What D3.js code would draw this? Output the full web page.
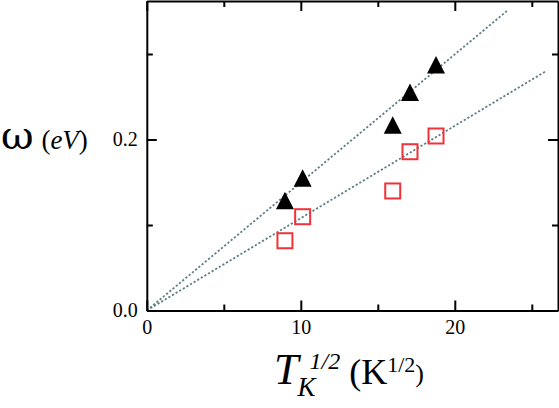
<!DOCTYPE html>
<html>
<head>
<meta charset="utf-8">
<script src="https://cdn.jsdelivr.net/npm/d3@7"></script>
<style>
  body { margin: 0; background: #fff; }
  text { font-family: "Liberation Serif", "DejaVu Serif", serif; fill: #000; }
</style>
</head>
<body>
<div id="chart"></div>
<script>
// data
var tkSqrt = [8.97, 10.12, 15.97, 17.09, 18.78];
var omegaTri = [0.1287, 0.155, 0.217, 0.2553, 0.2875];
var omegaSq = [0.0816, 0.1097, 0.1398, 0.1857, 0.2041];
var fitSlopes = [0.01498, 0.0108];
var fitEnds = [23.45, 25.9];
var xMajor = [0, 10, 20];
var xMinor = [5, 15, 25];
var yMajor = [0.0, 0.2];
var yMinor = [0.1, 0.3];

var svgWidth = 559;
var svgHeight = 408;
var margin = { top: 1, right: 1, bottom: 97.5, left: 146.8 };
var width = svgWidth - margin.left - margin.right;
var height = svgHeight - margin.top - margin.bottom;

var svg = d3.select("#chart").append("svg")
  .attr("width", svgWidth)
  .attr("height", svgHeight);

var g = svg.append("g")
  .attr("transform", `translate(${margin.left}, ${margin.top})`);

var x = d3.scaleLinear().domain([0, width / 15.4]).range([0, width]);
var y = d3.scaleLinear().domain([0, height / 855]).range([height, 0]);

// fit lines through origin
var fits = fitSlopes.map((s, i) => [[0, 0], [fitEnds[i], s * fitEnds[i]]]);
var line = d3.line().x(d => x(d[0])).y(d => y(d[1]));
g.selectAll("path.fit")
  .data(fits)
  .enter().append("path")
  .attr("class", "fit")
  .attr("d", line)
  .attr("fill", "none")
  .attr("stroke", "#5f7f86")
  .attr("stroke-width", 1.8)
  .attr("stroke-dasharray", "2.2,2");

// axes with inward ticks, mirrored on top/right
function addAxis(axisFn, scale, tr, major, minor, fmt) {
  var a = g.append("g").attr("transform", tr);
  a.call(axisFn(scale).tickValues(major).tickSizeInner(-10).tickSizeOuter(0).tickPadding(fmt ? 8 : 0).tickFormat(fmt || ""));
  var b = g.append("g").attr("transform", tr);
  b.call(axisFn(scale).tickValues(minor).tickSizeInner(-6).tickSizeOuter(0).tickFormat(""));
  b.select(".domain").remove();
  return a;
}
var bottom = addAxis(d3.axisBottom, x, `translate(0,${height})`, xMajor, xMinor, d3.format("d"));
var top = addAxis(d3.axisTop, x, "translate(0,0)", xMajor, xMinor, null);
var left = addAxis(d3.axisLeft, y, "translate(0,0)", yMajor, yMinor, d3.format(".1f"));
var right = addAxis(d3.axisRight, y, `translate(${width},0)`, yMajor, yMinor, null);

g.selectAll(".domain").attr("stroke", "#000").attr("stroke-width", 2);
g.selectAll(".tick line").attr("stroke", "#000").attr("stroke-width", 2);
g.selectAll(".tick text").style("font-size", "20px").attr("fill", "#000");
bottom.selectAll(".tick text").attr("dy", "0.75em");
left.selectAll(".tick text").attr("dx", "-1px");

// squares
var sq = 15;
g.selectAll("rect.sq")
  .data(tkSqrt)
  .enter().append("rect")
  .attr("class", "sq")
  .attr("x", (d, i) => x(d) - sq / 2)
  .attr("y", (d, i) => y(omegaSq[i]) - sq / 2)
  .attr("width", sq)
  .attr("height", sq)
  .attr("fill", "none")
  .attr("stroke", "#f0333a")
  .attr("stroke-width", 2);

// triangles
var tw = 18, th = 17.5;
g.selectAll("path.tri")
  .data(tkSqrt)
  .enter().append("path")
  .attr("class", "tri")
  .attr("d", (d, i) => {
    var cx = x(d), cy = y(omegaTri[i]);
    return `M${cx},${cy - th / 2}L${cx + tw / 2},${cy + th / 2}L${cx - tw / 2},${cy + th / 2}Z`;
  })
  .attr("fill", "#000");

// axis titles
var yl = svg.append("text")
  .attr("x", 1)
  .attr("y", 149);
yl.append("tspan").style("font-size", "40px").style("font-family", "DejaVu Serif").text("ω");
yl.append("tspan").style("font-size", "27px").text(" (").attr("dx", "1");
yl.append("tspan").style("font-size", "27px").style("font-style", "italic").text("eV");
yl.append("tspan").style("font-size", "27px").text(")");

var xl = svg.append("text")
  .attr("x", 274)
  .attr("y", 384);
xl.append("tspan").style("font-size", "44px").style("font-style", "italic").text("T");
xl.append("tspan").style("font-size", "27px").style("font-style", "italic").attr("dy", 12).attr("dx", -1).text("K");
xl.append("tspan").style("font-size", "24px").style("font-style", "italic").attr("dy", -27).attr("dx", -6).text("1/2");
xl.append("tspan").style("font-size", "36px").attr("dy", 15).text(" (K");
xl.append("tspan").style("font-size", "22px").attr("dy", -12).text("1/2");
xl.append("tspan").style("font-size", "26px").attr("dy", 10).text(")");
</script>
</body>
</html>
